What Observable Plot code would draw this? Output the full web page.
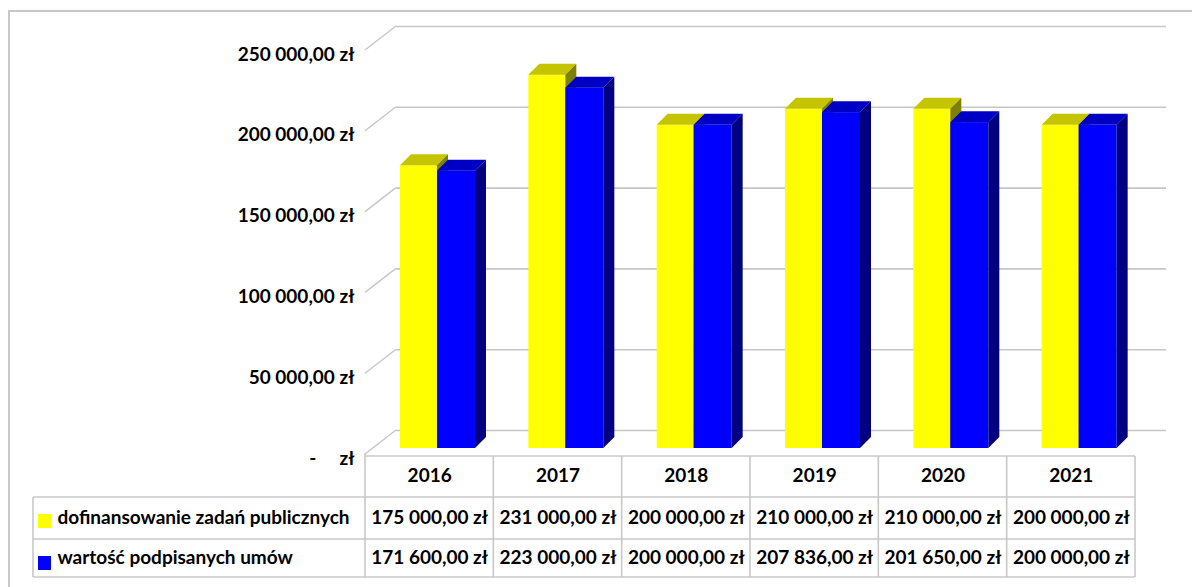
<!DOCTYPE html>
<html><head><meta charset="utf-8">
<script src="https://cdn.jsdelivr.net/npm/d3@7"></script>
<script src="https://cdn.jsdelivr.net/npm/@observablehq/plot@0.6"></script>
<style>
html,body{margin:0;padding:0;background:#fff;}
#chart{width:1192px;height:587px;overflow:hidden;}
</style></head><body><div id="chart"></div>
<script>
// ---- data ----
const years = ["2016", "2017", "2018", "2019", "2020", "2021"];
const seriesNames = ["dofinansowanie zadań publicznych", "wartość podpisanych umów"];
const dofinansowanie = [175000, 231000, 200000, 210000, 210000, 200000];
const umowy = [171600, 223000, 200000, 207836, 201650, 200000];
const yTicks = [0, 50000, 100000, 150000, 200000, 250000];
const yTickLabels = ["-\u00a0\u00a0\u00a0\u00a0\u00a0zł", "50 000,00 zł", "100 000,00 zł", "150 000,00 zł", "200 000,00 zł", "250 000,00 zł"];

// ---- styles ----
const frontColors = ["#ffff00", "#0000ff"];
const topColors = ["#c4c400", "#0000c4"];
const sideColors = ["#808000", "#000080"];
const gridColor = "#c6c6c6";
const FONT = "Lato, 'Open Sans', sans-serif";
const FS = 19;

const series = [dofinansowanie, umowy];
const fmt = d3.formatLocale({decimal: ",", thousands: "\u00a0", grouping: [3], currency: ["", "\u00a0zł"]}).format("$,.2f");
const bars = series.flatMap((vals, s) => years.map((year, i) => ({year, value: vals[i], s})));

// layout
const W = 1192, H = 587;
const X0 = 365, X1 = 1135, YB = 448, YT = 44;
const D = 11;            // bar depth offset
const WDX = 31, WDY = -18; // wall depth offset
const BW = (X1 - X0) / years.length;
const faceL = [35, 72], faceR = [72, 110];

function faces3d(s) {
  return (index, scales) => {
    const {x, y} = scales;
    const g = d3.create("svg:g");
    years.forEach((yr, i) => {
      const xl = x(yr) + faceL[s], xr = x(yr) + faceR[s];
      const yt = y(series[s][i]), yb = y(0);
      g.append("path").attr("d", `M${xl},${yt}L${xr},${yt}L${xr + D},${yt - D}L${xl + D},${yt - D}Z`).attr("fill", topColors[s]);
      g.append("path").attr("d", `M${xr},${yt}L${xr + D},${yt - D}L${xr + D},${yb - D}L${xr},${yb}Z`).attr("fill", sideColors[s]);
    });
    return g.node();
  };
}

const decorations = (index, scales) => {
  const {x, y} = scales;
  const bw = x.bandwidth ? x.bandwidth() : BW;
  const g = d3.create("svg:g").attr("fill", "none");
  const xs = x(years[0]), xe = x(years[years.length - 1]) + bw;
  // left wall diagonals
  yTicks.forEach(t => {
    g.append("line").attr("x1", xs).attr("y1", y(t) + 6).attr("x2", xs + WDX).attr("y2", y(t) + WDY)
      .attr("stroke", gridColor).attr("stroke-width", 1.4);
  });
  // outer border
  g.append("path").attr("d", `M9,${H}V11H${W}`).attr("stroke", "#c8c8c8").attr("stroke-width", 2);
  // table
  const y0 = y(0);
  const tc = "#c8c8c8", tw = 1.6;
  const rowTop = y0 + 8, r1 = y0 + 49, r2 = y0 + 91, r3 = y0 + 129;
  const legL = xs - 332;
  g.append("line").attr("x1", xs).attr("x2", xe).attr("y1", rowTop).attr("y2", rowTop).attr("stroke", tc).attr("stroke-width", tw);
  [r1, r2, r3].forEach(r => g.append("line").attr("x1", legL).attr("x2", xe).attr("y1", r).attr("y2", r).attr("stroke", tc).attr("stroke-width", tw));
  g.append("line").attr("x1", legL).attr("x2", legL).attr("y1", r1).attr("y2", r3).attr("stroke", tc).attr("stroke-width", tw);
  g.append("line").attr("x1", xs).attr("x2", xs).attr("y1", y0 + 5).attr("y2", r3).attr("stroke", tc).attr("stroke-width", tw);
  years.forEach(yr => {
    const xx = x(yr) + bw;
    g.append("line").attr("x1", xx).attr("x2", xx).attr("y1", rowTop).attr("y2", r3).attr("stroke", tc).attr("stroke-width", tw);
  });
  // legend swatches
  [r1, r2].forEach((r, s) => {
    g.append("rect").attr("x", legL + 5).attr("y", r + 17).attr("width", 13).attr("height", 14).attr("fill", frontColors[s]);
  });
  return g.node();
};

const textOpts = {fontFamily: FONT, fontWeight: "bold", fontSize: FS, fill: "#000"};

const plot = Plot.plot({
  width: W, height: H,
  marginLeft: X0, marginRight: W - X1, marginTop: YT, marginBottom: H - YB,
  x: {type: "band", domain: years, padding: 0, round: false, axis: null},
  y: {domain: [0, 250000], axis: null},
  style: {fontFamily: FONT, background: "transparent", overflow: "visible"},
  marks: [
    Plot.ruleY(yTicks, {y: d => d, dx: WDX, dy: WDY, stroke: gridColor, strokeWidth: 1.6}),
    decorations,
    Plot.barY(bars.filter(d => d.s === 0), {x: "year", y: "value", fill: frontColors[0], insetLeft: faceL[0], insetRight: BW - faceR[0]}),
    faces3d(0),
    Plot.barY(bars.filter(d => d.s === 1), {x: "year", y: "value", fill: frontColors[1], insetLeft: faceL[1], insetRight: BW - faceR[1]}),
    faces3d(1),
    Plot.text(yTicks, {y: d => d, text: (d, i) => yTickLabels[i], frameAnchor: "left", textAnchor: "end", dx: -11, dy: 10, ...textOpts}),
    Plot.text(years, {x: d => d, text: d => d, frameAnchor: "bottom", dy: 33, ...textOpts}),
    Plot.text(years, {x: d => d, text: (d, i) => fmt(dofinansowanie[i]), frameAnchor: "bottom", dy: 75, ...textOpts}),
    Plot.text(years, {x: d => d, text: (d, i) => fmt(umowy[i]), frameAnchor: "bottom", dy: 115, ...textOpts}),
    Plot.text([seriesNames[0]], {text: d => d, frameAnchor: "bottom-left", textAnchor: "start", dx: -308, dy: 75, ...textOpts}),
    Plot.text([seriesNames[1]], {text: d => d, frameAnchor: "bottom-left", textAnchor: "start", dx: -308, dy: 115, ...textOpts})
  ]
});
document.getElementById("chart").appendChild(plot);
</script>
</body></html>
